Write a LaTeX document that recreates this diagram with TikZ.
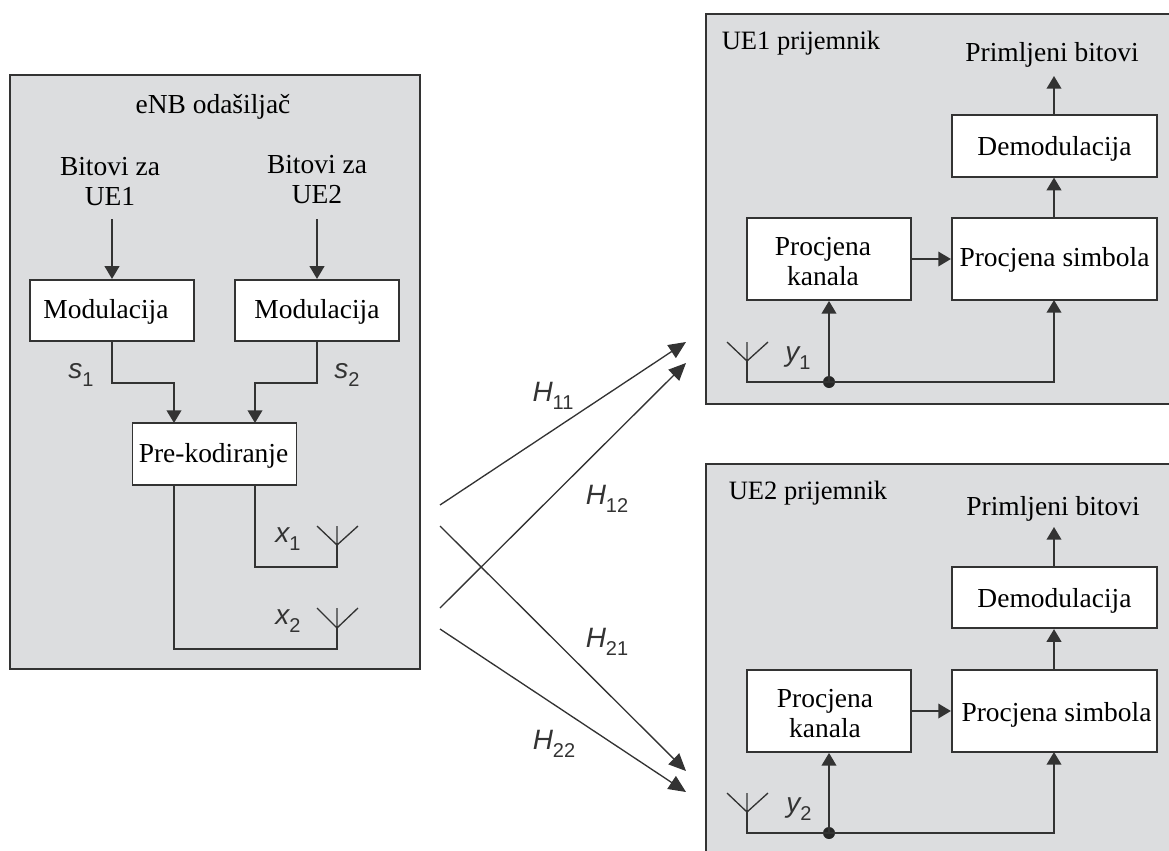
\documentclass[tikz,border=0pt]{standalone}
\usepackage{fontspec}
\setmainfont{Liberation Serif}
\setsansfont{Liberation Sans}
\usetikzlibrary{arrows.meta}
\definecolor{panelgray}{HTML}{DCDDDF}
\definecolor{linegray}{HTML}{333333}
\newcommand{\symlabel}[2]{{\fontsize{21}{21}\selectfont\sffamily\itshape #1}\raisebox{-5.5pt}{\fontsize{15}{15}\selectfont\sffamily #2}}
\newcommand{\dropped}[2]{\raisebox{-#1}[\height][\depth]{#2}}
\tikzset{
  panel/.style={draw=linegray,line width=1.5pt,fill=panelgray},
  blockbox/.style={draw=linegray,line width=1.4pt,fill=white,inner sep=0pt,align=center,
    font=\fontsize{20.6}{22.5}\selectfont,minimum width=123pt,minimum height=46pt},
  tallbox/.style={blockbox,minimum height=61.5pt},
  widebox/.style={blockbox,minimum width=154pt},
  wire/.style={draw=linegray,line width=1.2pt},
  feed/.style={wire,-{Triangle[length=9.5pt,width=11pt]}},
  channel/.style={wire,line width=1pt,-{Triangle[length=13pt,width=11.5pt]}},
  antenna/.style={wire,line width=1pt},
  joint/.style={circle,fill=black!85,inner sep=0pt,minimum size=9pt},
  caption/.style={inner sep=0pt,align=center,font=\fontsize{20.6}{22.5}\selectfont},
  rxtitle/.style={caption,font=\fontsize{19.9}{22.5}\selectfont},
  symbol/.style={inner sep=0pt,text=black!80}
}
\begin{document}
\begin{tikzpicture}[x=.75pt,y=-.75pt]
  \useasboundingbox (0,0) rectangle (1169,850);
  % transmitter
  \node[panel,inner sep=0pt,minimum width=307.5pt,minimum height=446pt] (enb) at (214.5,372) {};
  \node[caption] (enbtitle) at (213,107) {eNB odašiljač};
  \node[caption] (bits1) at (110,181.5) {Bitovi za\\UE1};
  \node[caption] (bits2) at (317,179.5) {Bitovi za\\UE2};
  \node[blockbox] (mod1) at (112,310.5) {\dropped{.75pt}{Modulacija}\hspace*{9pt}};
  \node[blockbox] (mod2) at (317,310.5) {\dropped{.75pt}{Modulacija}};
  \node[blockbox] (pre) at (214.5,454) {\hspace*{-1.5pt}\dropped{1.5pt}{Pre-kodiranje}};
  \coordinate (bits1out) at (112,219);
  \coordinate (bits2out) at (317,219);
  \coordinate (prein1) at (174,423);
  \coordinate (prein2) at (255,423);
  \coordinate (preout1) at (255,485);
  \coordinate (preout2) at (174,485);
  \coordinate (ant1) at (337,545);
  \coordinate (ant2) at (337,628);
  \draw[feed] (bits1out) -- (mod1.north);
  \draw[feed] (bits2out) -- (mod2.north);
  \draw[feed] (mod1.south) -- ++(0,41) -| (prein1);
  \draw[feed] (mod2.south) -- ++(0,41) -| (prein2);
  \draw[wire] (preout1) |- (337,567) -- (ant1);
  \draw[wire] (preout2) |- (337,649) -- (ant2);
  \draw[antenna] (317,526) -- (ant1) -- (358,526) (ant1) -- ++(0,-19);
  \draw[antenna] (317,608) -- (ant2) -- (358,608) (ant2) -- ++(0,-20);
  \node[symbol] (s1) at (81,375) {\symlabel{s}{1}};
  \node[symbol] (s2) at (347,375) {\symlabel{s}{2}};
  \node[symbol] (x1) at (288,539) {\symlabel{x}{1}};
  \node[symbol] (x2) at (288,621) {\symlabel{x}{2}};
  % first receiver
  \node[panel,inner sep=0pt,minimum width=360pt,minimum height=292.5pt] (ue1) at (945.5,208.5) {};
  \node[rxtitle] (ue1title) at (801,43) {UE1 prijemnik};
  \node[caption] (rx1bits) at (1052,55) {Primljeni bitovi};
  \node[widebox] (dem1) at (1054.5,146) {\dropped{2.25pt}{Demodulacija}};
  \node[widebox,minimum height=61.5pt] (sym1) at (1054.5,259) {\dropped{.75pt}{Procjena simbola}};
  \node[tallbox] (est1) at (829,259) {\dropped{2pt}{Procjena}\hspace*{9pt}\\\dropped{2pt}{kanala}\hspace*{9pt}};
  \coordinate (rx1out) at (1054,76);
  \coordinate (rx1ant) at (747,361);
  \coordinate (sym1in) at (1054,300);
  \node[joint] (tap1) at (829,382) {};
  \draw[feed] (sym1.north -| sym1in) -- (dem1.south -| sym1in);
  \draw[feed] (dem1.north -| sym1in) -- (rx1out);
  \draw[feed] (est1) -- (sym1);
  \draw[feed] (tap1.center) -- (est1.south);
  \draw[feed] (rx1ant) -- (747,382) -- (tap1.center) -| (sym1in);
  \draw[antenna] (727,342) -- (rx1ant) -- (768,342) (rx1ant) -- ++(0,-19);
  \node[symbol] (y1) at (798,358) {\symlabel{y}{1}};
  % second receiver
  \node[panel,inner sep=0pt,minimum width=360pt,minimum height=320pt] (ue2) at (945.5,677) {};
  \node[rxtitle] (ue2title) at (808,493) {UE2 prijemnik};
  \node[caption] (rx2bits) at (1053,509) {Primljeni bitovi};
  \node[widebox] (dem2) at (1054.5,597.5) {\dropped{2.25pt}{Demodulacija}};
  \node[widebox,minimum height=61.5pt] (sym2) at (1054.5,711) {\hspace*{3pt}\dropped{3pt}{Procjena simbola}};
  \node[tallbox] (est2) at (829,711) {\dropped{2pt}{Procjena}\hspace*{6pt}\\\dropped{2pt}{kanala}\hspace*{6pt}};
  \coordinate (rx2out) at (1054,527);
  \coordinate (rx2ant) at (747,812);
  \coordinate (sym2in) at (1054,752);
  \node[joint] (tap2) at (829,833) {};
  \draw[feed] (sym2.north -| sym2in) -- (dem2.south -| sym2in);
  \draw[feed] (dem2.north -| sym2in) -- (rx2out);
  \draw[feed] (est2) -- (sym2);
  \draw[feed] (tap2.center) -- (est2.south);
  \draw[feed] (rx2ant) -- (747,833) -- (tap2.center) -| (sym2in);
  \draw[antenna] (727,793) -- (rx2ant) -- (768,793) (rx2ant) -- ++(0,-19);
  \node[symbol] (y2) at (799,809) {\symlabel{y}{2}};
  % channels
  \coordinate (tx11) at (440,505);
  \coordinate (tx21) at (440,526);
  \coordinate (tx12) at (440,608);
  \coordinate (tx22) at (440,629);
  \coordinate (rx11) at (686,342);
  \coordinate (rx12) at (686,363);
  \coordinate (rx21) at (686,771);
  \coordinate (rx22) at (686,792);
  \draw[channel] (tx11) -- (rx11);
  \draw[channel] (tx12) -- (rx12);
  \draw[channel] (tx21) -- (rx21);
  \draw[channel] (tx22) -- (rx22);
  \node[symbol] (h11) at (553,396) {\symlabel{H}{11}};
  \node[symbol] (h12) at (607,499) {\symlabel{H}{12}};
  \node[symbol] (h21) at (607,642) {\symlabel{H}{21}};
  \node[symbol] (h22) at (554,744) {\symlabel{H}{22}};
\end{tikzpicture}
\end{document}
